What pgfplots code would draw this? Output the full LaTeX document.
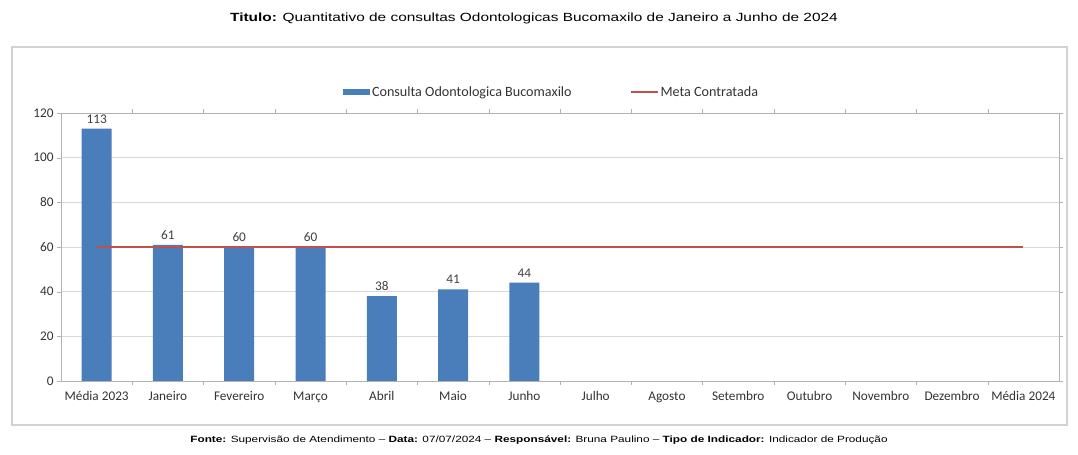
\documentclass[border=0pt]{standalone}
\usepackage{pgfplots}
\pgfplotsset{compat=1.18}
\usepackage{fontspec}
\setmainfont{Liberation Sans}
\newfontfamily\titfont[FakeStretch=1.3]{Liberation Sans}
\newfontfamily\calfont{Carlito}
\definecolor{barblue}{RGB}{74,126,187}
\definecolor{metared}{RGB}{192,80,77}
\begin{document}
\begin{tikzpicture}[x=1bp,y=1bp]
\path (0,0) rectangle (1078,455);
\draw[gray!35, line width=1.2bp] (12,30) rectangle (1067,408);
\node at (534,437) {\titfont\fontsize{11.9}{13}\selectfont\textbf{Titulo:} Quantitativo de consultas Odontologicas Bucomaxilo de Janeiro a Junho de 2024};
\node at (539,15) {\titfont\fontsize{9.1}{10}\selectfont\textbf{Fonte:} Supervisão de Atendimento – \textbf{Data:} 07/07/2024 – \textbf{Responsável:} Bruna Paulino – \textbf{Tipo de Indicador:} Indicador de Produção};
\begin{axis}[
  at={(61bp,74bp)}, anchor=south west,
  scale only axis, width=998bp, height=268bp,
  xmin=-0.5, xmax=13.5, ymin=0, ymax=120,
  ytick={0,20,...,120},
  xtick={0,...,13},
  xticklabels={Média 2023,Janeiro,Fevereiro,Março,Abril,Maio,Junho,Julho,Agosto,Setembro,Outubro,Novembro,Dezembro,Média 2024},
  minor xtick={0.5,1.5,...,12.5},
  xtick style={draw=none},
  minor x tick style={draw=gray!60},
  ytick style={draw=gray!60},
  major tick length=4bp, minor tick length=4bp,
  tick align=outside,
  ymajorgrids, grid style={gray!30, line width=0.8bp},
  axis line style={gray!60},
  ticklabel style={font=\calfont\fontsize{13.3}{15}\selectfont, color=black!80},
  xticklabel style={text height=1.6ex, text depth=0.3ex, yshift=-4bp},
  /pgf/number format/assume math mode=true,
  legend style={at={(0.4915,1)}, anchor=center, yshift=21bp, draw=none, fill=none,
    font=\calfont\fontsize{14.2}{16}\selectfont, text=black!80,
    /tikz/every even column/.append style={column sep=56bp}},
  legend columns=2,
  legend cell align=left,
]
\addplot[ybar, bar width=30bp, fill=barblue, draw=none,
  nodes near coords,
  nodes near coords style={font=\calfont\fontsize{13.3}{15}\selectfont, color=black!75, yshift=2bp},
  legend image code/.code={\fill[barblue] (0bp,-3bp) rectangle (27bp,3bp);}]
  coordinates {(0,113) (1,61) (2,60) (3,60) (4,38) (5,41) (6,44)};
\addlegendentry{Consulta Odontologica Bucomaxilo}
\addplot[metared, line width=1.8bp, sharp plot,
  legend image code/.code={\draw[metared, line width=1.8bp] (0bp,0bp) -- (27bp,0bp);}]
  coordinates {(0,60) (1,60) (2,60) (3,60) (4,60) (5,60) (6,60) (7,60) (8,60) (9,60) (10,60) (11,60) (12,60) (13,60)};
\addlegendentry{Meta Contratada}
\end{axis}
\end{tikzpicture}
\end{document}
